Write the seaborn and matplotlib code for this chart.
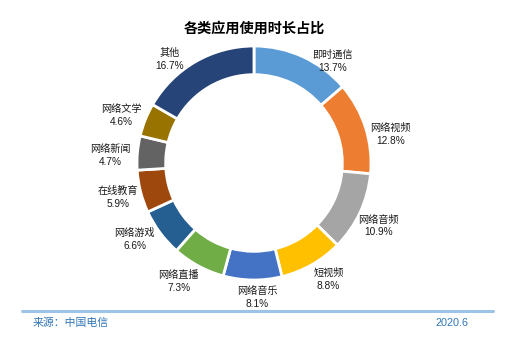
import numpy as np
import matplotlib
matplotlib.use("Agg")
import matplotlib.pyplot as plt
import seaborn as sns

categories = ["即时通信", "网络视频", "网络音频", "短视频", "网络音乐", "网络直播",
              "网络游戏", "在线教育", "网络新闻", "网络文学", "其他"]
values = [13.7, 12.8, 10.9, 8.8, 8.1, 7.3, 6.6, 5.9, 4.7, 4.6, 16.7]
title = "各类应用使用时长占比"
source = "来源：中国电信"
date = "2020.6"

colors = ["#5B9BD5", "#ED7D31", "#A5A5A5", "#FFC000", "#4472C4", "#70AD47",
          "#255E91", "#9E480E", "#636363", "#997300", "#264478"]
# layout: label angle nudges (deg, clockwise) and radial distance
label_nudge = [13, 6, 2, -3, -2, 4, 4, 0, -2, -2, -9]
label_r = [1.10, 1.19, 1.19, 1.18, 1.15, 1.20, 1.21, 1.20, 1.23, 1.20, 1.14]

sns.set_theme(style="white")
plt.rcParams['font.family'] = ['Liberation Sans', 'Noto Sans CJK SC', 'DejaVu Sans']
sns.set_palette(colors)

W, H = 508, 345
fig = plt.figure(figsize=(W / 100, H / 100), dpi=100)
R = 117.0
cx, cy = 254.0, 163.0
ax = fig.add_axes([0, 0, 1, 1])
ax.pie(values, colors=sns.color_palette(colors), startangle=90, counterclock=False,
       radius=1.0, wedgeprops=dict(width=0.245, edgecolor="white", linewidth=2.0))
ax.set_xlim(-cx / R, (W - cx) / R)
ax.set_ylim(-(H - cy) / R, cy / R)
ax.set_aspect("equal")
ax.axis("off")

total = float(np.sum(values))
cum = np.cumsum([0] + values[:-1])
for i, (c, v) in enumerate(zip(categories, values)):
    mid = (cum[i] + v / 2) / total * 360 + label_nudge[i]
    th = np.deg2rad(mid)
    x = label_r[i] * np.sin(th)
    y = label_r[i] * np.cos(th)
    ax.text(x, y, f"{c}\n{v:.1f}%", ha="center", va="center", fontsize=7.3,
            color="#1a1a1a", linespacing=1.35)

fig.text(0.5, 1 - 29 / H, title, ha="center", va="center", fontsize=10.2,
         fontweight="bold", color="#000000")
fig.add_artist(plt.Line2D([22 / W, 493 / W], [1 - 311 / H, 1 - 311 / H],
                          color="#9DC3E6", linewidth=2.2))
fig.text(33 / W, 1 - 323 / H, source, ha="left", va="center", fontsize=7.8,
         color="#2E75B6")
fig.text(469 / W, 1 - 323 / H, date, ha="right", va="center", fontsize=7.8,
         color="#2E75B6")

fig.savefig("out.png", dpi=100)
